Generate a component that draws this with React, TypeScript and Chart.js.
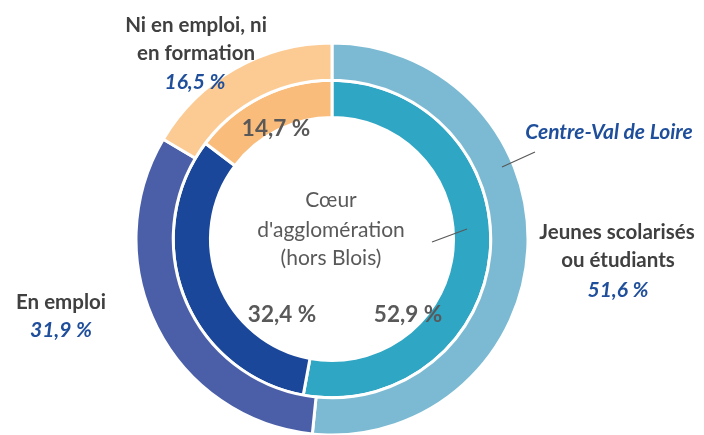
import React, { useEffect, useRef } from "react";
import { Chart, registerables } from "chart.js";

Chart.register(...registerables);

const categories = ["Jeunes scolarisés ou étudiants", "En emploi", "Ni en emploi, ni en formation"];
const regionName = "Centre-Val de Loire";
const regionValues = [51.6, 31.9, 16.5];
const agglomerationName = "Cœur d'agglomération (hors Blois)";
const agglomerationValues = [52.9, 32.4, 14.7];
const regionColors = ["#7BBAD2", "#4A5FA8", "#FBCB93"];
const agglomerationColors = ["#2EA6C4", "#1A4799", "#F9BC7B"];

const fmt = (v: number) => v.toFixed(1).replace(".", ",") + " %";

const FONT = "Lato, 'Open Sans', sans-serif";
const GRAY = "#404040";
const DARKGRAY = "#595959";
const BLUE = "#1F4E9B";

const textPlugin = {
  id: "textPlugin",
  afterDraw(chart: any) {
    const ctx: CanvasRenderingContext2D = chart.ctx;
    ctx.save();
    ctx.textAlign = "center";
    ctx.textBaseline = "middle";

    const put = (t: string, x: number, y: number, font: string, color: string) => {
      ctx.font = font;
      ctx.fillStyle = color;
      ctx.fillText(t, x, y);
    };
    const lab = `bold 20.5px ${FONT}`;
    const pct = `italic bold 21px ${FONT}`;

    // Outer ring labels (region)
    put("Ni en emploi, ni", 196, 25, lab, GRAY);
    put("en formation", 196, 53, lab, GRAY);
    put(fmt(regionValues[2]), 195, 82, pct, BLUE);

    put("Jeunes scolarisés", 617, 232, lab, GRAY);
    put("ou étudiants", 618, 260, lab, GRAY);
    put(fmt(regionValues[0]), 618, 290, pct, BLUE);

    put("En emploi", 61, 302, lab, GRAY);
    put(fmt(regionValues[1]), 61, 330, pct, BLUE);

    put(regionName, 609, 132, pct, BLUE);

    // Inner ring labels
    const inner = `bold 22.5px ${FONT}`;
    put(fmt(agglomerationValues[2]), 276, 129, inner, DARKGRAY);
    put(fmt(agglomerationValues[1]), 282, 315, inner, DARKGRAY);
    put(fmt(agglomerationValues[0]), 408, 315, inner, DARKGRAY);

    // Center title
    const ctr = `21px ${FONT}`;
    put("Cœur", 331, 200, ctr, DARKGRAY);
    put("d'agglomération", 331, 230, ctr, DARKGRAY);
    put("(hors Blois)", 331, 258, ctr, DARKGRAY);

    // Leader lines
    ctx.strokeStyle = "#595959";
    ctx.lineWidth = 1.2;
    ctx.beginPath();
    ctx.moveTo(535, 152);
    ctx.lineTo(502, 167);
    ctx.moveTo(432, 242);
    ctx.lineTo(467, 229);
    ctx.stroke();
    ctx.restore();
  },
};

export default function App() {
  const ref = useRef<HTMLCanvasElement | null>(null);
  useEffect(() => {
    if (!ref.current) return;
    const chart = new Chart(ref.current, {
      type: "doughnut",
      data: {
        labels: categories,
        datasets: [
          {
            label: regionName,
            data: regionValues,
            backgroundColor: regionColors,
            borderColor: "#FFFFFF",
            borderWidth: 3,
          },
          {
            label: agglomerationName,
            data: agglomerationValues,
            backgroundColor: agglomerationColors,
            borderColor: "#FFFFFF",
            borderWidth: 3,
          },
        ],
      },
      options: {
        responsive: false,
        animation: false,
        devicePixelRatio: 1,
        radius: 196,
        cutout: "62%",
        layout: { padding: { left: 0, right: 40, top: 43, bottom: 0 } },
        plugins: {
          legend: { display: false },
          tooltip: { enabled: false },
        },
      } as any,
      plugins: [textPlugin],
    });
    return () => chart.destroy();
  }, []);
  return (
    <div style={{ position: "fixed", left: 0, top: 0, width: 704, height: 435, background: "#fff" }}>
      <canvas ref={ref} width={704} height={435} style={{ width: 704, height: 435, display: "block" }} />
    </div>
  );
}
